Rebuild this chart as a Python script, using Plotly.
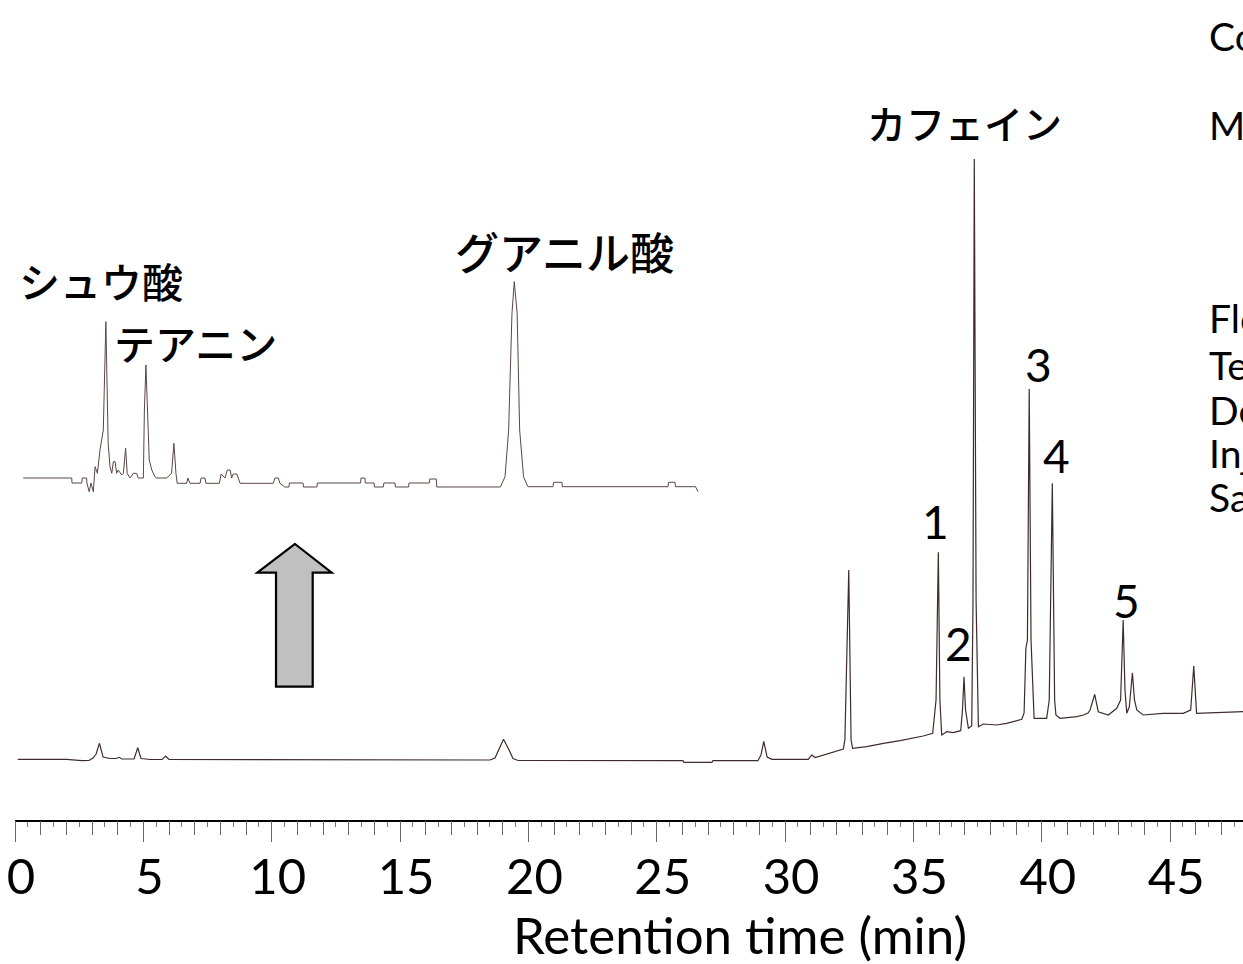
import plotly.graph_objects as go

# ---------------- data ----------------
# Main chromatogram: retention time (min) and detector signal (a.u.)
main_time = [0.11, 1.99, 2.61, 2.88, 3.04, 3.16, 3.29, 3.43, 3.70, 3.93, 4.05, 4.17, 4.64, 4.78, 4.91,
             5.26, 5.73, 5.87, 6.00, 7.21, 9.15, 11.10, 14.96, 18.50, 18.70, 18.86, 19.03, 19.21, 19.40,
             19.60, 22.79, 26.02, 26.06, 27.15, 27.19, 28.94, 29.06, 29.17, 29.30, 29.49, 30.90, 31.04,
             31.17, 32.27, 32.33, 32.48, 32.57, 32.63, 33.18, 33.83, 34.48, 35.38, 35.75, 35.88, 35.97,
             36.03, 36.10, 36.30, 36.55, 36.84, 36.91, 36.97, 37.03, 37.14, 37.27, 37.32, 37.37, 37.44,
             37.53, 37.72, 38.24, 38.63, 39.22, 39.31, 39.38, 39.44, 39.51, 39.58, 39.70, 40.19, 40.29,
             40.41, 40.50, 40.55, 40.71, 41.36, 41.62, 41.80, 41.88, 42.06, 42.20, 42.59, 42.92, 43.07,
             43.17, 43.24, 43.31, 43.41, 43.53, 43.61, 43.70, 43.95, 44.73, 45.51, 45.80, 45.92, 46.03,
             47.84]
main_signal = [0.7, 0.7, -0.7, -0.5, 2, 6, 16.7, 3, 1.5, 1.5, 2.7, 1, 1, 12.3, 1.5,
               0.5, 0.5, 4, 0.5, 0.5, 0, 0, 0, 0, 2, 12, 20.7, 12, 1.5,
               -0.5, -0.7, -0.7, -2.3, -2.3, -0.7, -0.7, 5, 18.7, 3, 0.7, 0.7, 5,
               2.5, 11, 20.7, 190, 20, 11.7, 13.3, 16.7, 19.3, 24, 26.7, 60, 207.7,
               60, 25, 28.3, 27.3, 29.3, 50, 83.3, 50, 31.7, 34, 160, 601, 160,
               33.3, 36, 35, 36.7, 40.7, 47, 111.7, 120, 371, 120, 41.7, 41.7, 60,
               276.7, 60, 45, 41.7, 43.3, 45, 47, 50, 65.7, 48.3, 45, 51.7, 60,
               140, 70, 46.7, 53.3, 87.3, 60, 50, 45, 46.7, 46.7, 50, 94, 46.7,
               48.3]

# Enlarged view of the early part of the run (0-27 min)
inset_time = [0.32, 2.21, 2.22, 2.60, 2.62, 2.79, 2.80, 2.89, 2.96, 3.05, 3.12, 3.21, 3.31, 3.44, 3.54,
              3.63, 3.70, 3.77, 3.83, 3.90, 3.96, 4.02, 4.16, 4.22, 4.31, 4.37, 4.48, 4.61, 4.74, 4.80,
              5.00, 5.04, 5.10, 5.17, 5.23, 5.33, 5.45, 5.52, 5.91, 6.10, 6.19, 6.27, 6.32, 6.69, 6.73,
              6.82, 7.21, 7.25, 7.40, 7.44, 7.96, 8.03, 8.18, 8.27, 8.38, 8.44, 8.50, 8.64, 8.70, 8.77,
              10.06, 10.13, 10.26, 10.32, 10.51, 10.67, 10.69, 11.22, 11.24, 11.76, 11.78, 13.46, 13.48,
              13.63, 13.65, 13.99, 14.00, 14.35, 14.37, 14.80, 14.82, 15.33, 15.35, 16.14, 16.16, 16.41,
              16.43, 18.91, 19.09, 19.23, 19.36, 19.45, 19.56, 19.66, 19.81, 19.98, 20.96, 20.98, 21.31,
              21.32, 25.44, 25.46, 25.71, 25.73, 26.51, 26.61]
inset_signal = [0, 0, -5, -5, 0, 0, -5, -13.7, -5, -13.7, 11.3, 4.7, 28, 48, 156.3,
                34.7, 11.3, 4.7, 16.3, 16.3, 4.7, 8, 3, 4.7, 29.7, 4.7, 0, 4.7, 4.7, 0,
                0, 68, 113, 51.3, 18, 8, 1.3, 0, 0, 4.7, 34.7, 4.7, -5.3, -5.3, 0,
                -5.3, -5.3, 0, 0, -5.3, -5.3, 4, 0, 8, 8, 0, 4, 4, 0, -5.3,
                -5.3, 0, 0, -5.3, -9, -9, -5, -5, -9, -9, -5, -5, 0,
                0, -5, -5, -9, -9, -5, -5, -9, -9, -5, -5, -1, -1,
                -9, -9, 1.3, 48, 164.7, 196.3, 165, 48, 1.3, -8.7, -8.7, -4.3, -4.3,
                -8.7, -8.7, -4.3, -4.3, -8.7, -8.7, -13.7]

tick_values = [0, 5, 10, 15, 20, 25, 30, 35, 40, 45]
tick_labels = ["0", "5", "10", "15", "20", "25", "30", "35", "40", "45"]

compound_names = ["シュウ酸", "テアニン", "グアニル酸", "カフェイン"]
peak_numbers = ["1", "2", "3", "4", "5"]
condition_labels = ["Column", "Mobile phase", "Flow rate", "Temperature", "Detection",
                    "Injection volume", "Sample"]
axis_title = "Retention time (min)"

# ---------------- layout geometry ----------------
W, H = 1243, 964
ML, MR, MT, MB = 15, 0, 0, 144
PW, PH = W - ML - MR, H - MT - MB
XMAX = PW / 25.67
Y_MAIN = [-60, 760]
Y_INSET = [-342, 478]


def ppx(px):  # pixel x -> paper
    return (px - ML) / PW


def ppy(py):  # pixel y -> paper
    return (H - MB - py) / PH


LATIN = "Lato, 'Noto Sans', sans-serif"
CJK = "'Noto Sans CJK JP', sans-serif"

fig = go.Figure()
fig.add_trace(go.Scatter(x=main_time, y=main_signal, mode="lines",
                         line=dict(color="#3e2c2c", width=1.2), xaxis="x", yaxis="y",
                         hoverinfo="skip"))
fig.add_trace(go.Scatter(x=inset_time, y=inset_signal, mode="lines",
                         line=dict(color="#5a4646", width=1), xaxis="x", yaxis="y2",
                         hoverinfo="skip"))

annotations = []
# compound name labels (pixel centres)
name_pos = [(101, 280, 41), (195, 342, 41), (564, 251, 44), (964, 122, 39)]
for txt, (px, py, fs) in zip(compound_names, name_pos):
    annotations.append(dict(text=txt, x=ppx(px), y=ppy(py), xref="paper", yref="paper",
                            xanchor="center", yanchor="middle", showarrow=False,
                            font=dict(family=CJK, size=fs, color="black", weight=500)))
num_pos = [(935, 521), (958, 643), (1038, 365), (1056, 455), (1126, 600)]
for txt, (px, py) in zip(peak_numbers, num_pos):
    annotations.append(dict(text=txt, x=ppx(px), y=ppy(py), xref="paper", yref="paper",
                            xanchor="center", yanchor="middle", showarrow=False,
                            font=dict(family=LATIN, size=46, color="black")))
cond_y = [36, 125, 318, 365, 410, 453, 497]
for txt, py in zip(condition_labels, cond_y):
    annotations.append(dict(text=txt, x=ppx(1207), y=ppy(py), xref="paper", yref="paper",
                            xanchor="left", yanchor="middle", showarrow=False,
                            font=dict(family=LATIN, size=39, color="black")))
annotations.append(dict(text=axis_title, x=ppx(740), y=ppy(934), xref="paper", yref="paper",
                        xanchor="center", yanchor="middle", showarrow=False,
                        font=dict(family=LATIN, size=51, color="black")))

# block arrow (pixel outline)
arrow_px = [(295, 544), (331.7, 572.7), (312.7, 572.7), (312.7, 686.7),
            (276, 686.7), (276, 572.7), (257.3, 572.7)]
path = "M " + " L ".join(f"{ppx(x):.5f},{ppy(y):.5f}" for x, y in arrow_px) + " Z"
shapes = [dict(type="path", path=path, xref="paper", yref="paper",
               fillcolor="#c0c0c0", line=dict(color="black", width=2.2))]

fig.update_layout(
    width=W, height=H,
    margin=dict(l=ML, r=MR, t=MT, b=MB, pad=0),
    paper_bgcolor="white", plot_bgcolor="white",
    showlegend=False,
    annotations=annotations, shapes=shapes,
    xaxis=dict(range=[0, XMAX], showgrid=False, zeroline=False,
               showline=True, linecolor="black", linewidth=1.5,
               ticks="outside", ticklen=20, tickwidth=1, tickcolor="#666",
               tickvals=tick_values, ticktext=tick_labels,
               tickfont=dict(family=LATIN, size=49, color="black"),
               ticklabelshift=6, ticklabelstandoff=-7,
               minor=dict(ticks="outside", tick0=0, dtick=0.5, ticklen=5,
                          tickwidth=1, tickcolor="#777", showgrid=False)),
    xaxis3=dict(range=[0, XMAX], overlaying="x", anchor="y", side="bottom",
                showgrid=False, zeroline=False, showline=False, showticklabels=False,
                ticks="outside", tickmode="linear", tick0=0, dtick=1, ticklen=14,
                tickwidth=1, tickcolor="#666"),
    yaxis=dict(range=Y_MAIN, visible=False, fixedrange=True),
    yaxis2=dict(range=Y_INSET, visible=False, overlaying="y"),
)
# empty trace so that xaxis3 (1-min ticks) is drawn
fig.add_trace(go.Scatter(x=[], y=[], xaxis="x3", yaxis="y", showlegend=False))

fig.write_html("out.html", config={"displayModeBar": False},
               post_script="document.body.style.margin='0';document.body.style.overflow='hidden';")
